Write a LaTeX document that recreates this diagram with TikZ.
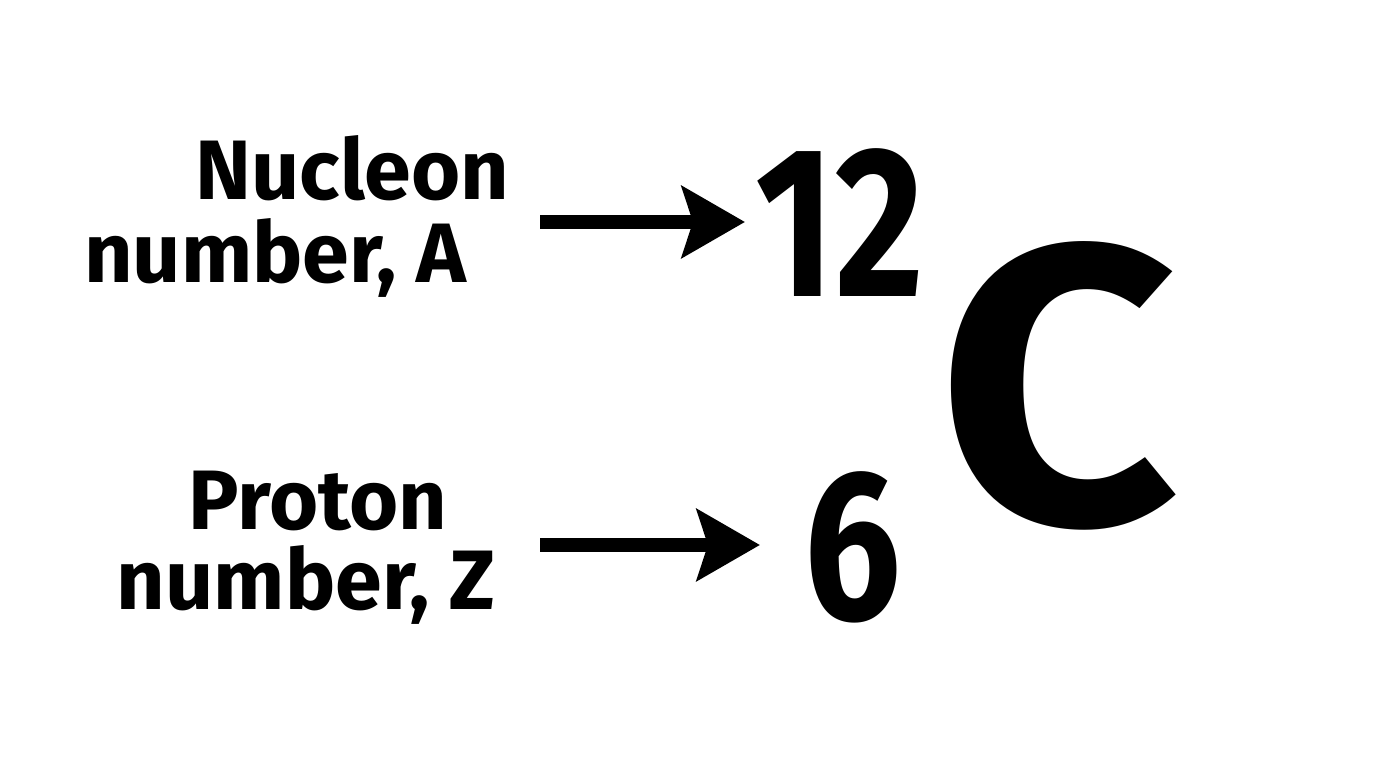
\documentclass[tikz,border=0pt]{standalone}
\usepackage{fontspec}
\setmainfont{Fira Sans}
\newfontfamily\digitfont[FakeStretch=0.8]{Fira Sans}
\newfontfamily\elemfont[FakeStretch=1.06]{Fira Sans}
\usetikzlibrary{positioning, arrows.meta}

\begin{document}
\begin{tikzpicture}[
     inner sep = 0pt,
        lbl/.style = {font=\fontsize{24}{29}\selectfont\bfseries, anchor=base east},
        num/.style = {font=\digitfont\fontsize{61}{70}\selectfont\bfseries, anchor=base west},
        elem/.style = {font=\elemfont\fontsize{113}{130}\selectfont\bfseries, anchor=base west},
        pointer/.style = {line width=1.4mm, -{Stealth[length=6.3mm, width=7.1mm, inset=1.1mm]}}
                        ]
\useasboundingbox (0,0) rectangle (13.76,7.68);
\node (nucleon)[lbl] at (5.10,5.68) {Nucleon};
\node (nucnum) [lbl] at (4.67,4.85) {number, A};
\node (proton) [lbl] at (4.48,2.38) {Proton};
\node (pronum) [lbl] at (4.96,1.58) {number, Z};
\node (mass)   [num] at (7.55,4.71) {12};
\node (atomic) [num] at (8.04,1.48) {6};
\node (symbol) [elem] at (9.37,2.44) {C};
\coordinate (mstart) at (5.40,5.46);
\coordinate (mend)   at (7.45,5.46);
\coordinate (zstart) at (5.40,2.23);
\coordinate (zend)   at (7.60,2.23);
\draw[pointer] (mstart) to (mend);
\draw[pointer] (zstart) to (zend);
\end{tikzpicture}
\end{document}
